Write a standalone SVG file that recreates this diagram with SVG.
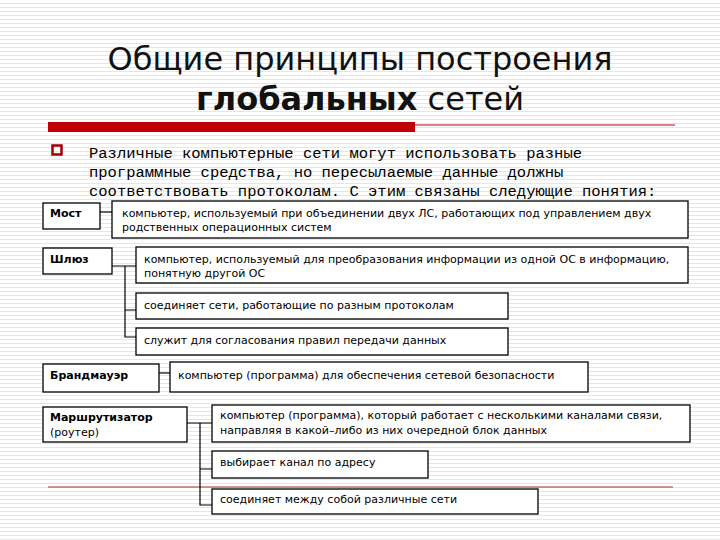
<svg xmlns="http://www.w3.org/2000/svg" width="720" height="540" viewBox="0 0 720 540">
<defs>
<pattern id="st" width="8" height="4" patternUnits="userSpaceOnUse"><rect width="8" height="4" fill="#fff"/><rect y="3" width="8" height="1" fill="#e6e6e6"/></pattern>
<style>
.b{fill:#fff;stroke:#000;stroke-width:1.3}
.t{font-family:"DejaVu Sans",sans-serif;font-size:11px;fill:#000}
.h{font-weight:bold}
.c{fill:none;stroke:#000;stroke-width:1.2}
.m{font-family:"Liberation Mono",monospace;font-size:15.5px;fill:#000}
</style>
</defs>
<rect width="720" height="540" fill="url(#st)"/>
<g id="title" font-family="'DejaVu Sans',sans-serif" font-size="32" text-anchor="middle" fill="#111">
<text x="360" y="70">Общие принципы построения</text>
<text x="360" y="110"><tspan font-weight="bold">глобальных</tspan> сетей</text>
</g>
<rect x="48" y="122" width="367" height="10" fill="#c00000"/>
<line x1="415" y1="125" x2="675" y2="125" stroke="#c00000" stroke-width="1"/>
<line x1="48" y1="487" x2="673" y2="487" stroke="#a03030" stroke-width="1"/>
<rect x="52.5" y="145.5" width="9" height="9" fill="none" stroke="#a00000" stroke-width="2.5"/>
<g id="intro">
<text class="m" x="89" y="158">Различные компьютерные сети могут использовать разные</text>
<text class="m" x="89" y="177">программные средства, но пересылаемые данные должны</text>
<text class="m" x="89" y="196">соответствовать протоколам.  С этим связаны следующие понятия:</text>
</g>
<g id="connectors">
<path class="c" d="M100 212H112"/>
<path class="c" d="M112 266H136M125 266V337H136M125 310H136"/>
<path class="c" d="M159 373H170"/>
<path class="c" d="M187 423H212M200 423V505H212M200 469H212"/>
</g>
<g id="most"><rect class="b" x="43" y="203" width="57" height="26"/><text class="t h" x="50" y="217">Мост</text></g>
<g id="most-d"><rect class="b" x="112" y="201" width="576" height="37"/><text class="t" x="122" y="217">компьютер, используемый при объединении двух ЛС, работающих под управлением двух</text><text class="t" x="122" y="231">родственных операционных систем</text></g>
<g id="shluz"><rect class="b" x="43" y="248" width="69" height="26"/><text class="t h" x="50" y="263">Шлюз</text></g>
<g id="shluz-d1"><rect class="b" x="136" y="247" width="552" height="36"/><text class="t" x="144" y="263">компьютер, используемый для преобразования информации из одной ОС в информацию,</text><text class="t" x="144" y="277">понятную другой ОС</text></g>
<g id="shluz-d2"><rect class="b" x="136" y="293" width="372" height="26"/><text class="t" x="144" y="309">соединяет сети, работающие по разным протоколам</text></g>
<g id="shluz-d3"><rect class="b" x="136" y="328" width="372" height="27"/><text class="t" x="144" y="344">служит для согласования правил передачи данных</text></g>
<g id="brand"><rect class="b" x="43" y="364" width="116" height="28"/><text class="t h" x="50" y="379">Брандмауэр</text></g>
<g id="brand-d"><rect class="b" x="170" y="362" width="418" height="30"/><text class="t" x="178" y="379">компьютер (программа) для обеспечения сетевой безопасности</text></g>
<g id="router"><rect class="b" x="43" y="407" width="144" height="35"/><text class="t h" x="50" y="421">Маршрутизатор</text><text class="t" x="50" y="436">(роутер)</text></g>
<g id="router-d1"><rect class="b" x="212" y="405" width="478" height="37"/><text class="t" x="220" y="419">компьютер (программа), который работает с несколькими каналами связи,</text><text class="t" x="220" y="434">направляя в какой–либо из них очередной блок данных</text></g>
<g id="router-d2"><rect class="b" x="212" y="451" width="216" height="27"/><text class="t" x="220" y="466">выбирает канал по адресу</text></g>
<g id="router-d3"><rect class="b" x="212" y="489" width="326" height="25"/><text class="t" x="220" y="503">соединяет между собой различные сети</text></g>
</svg>
